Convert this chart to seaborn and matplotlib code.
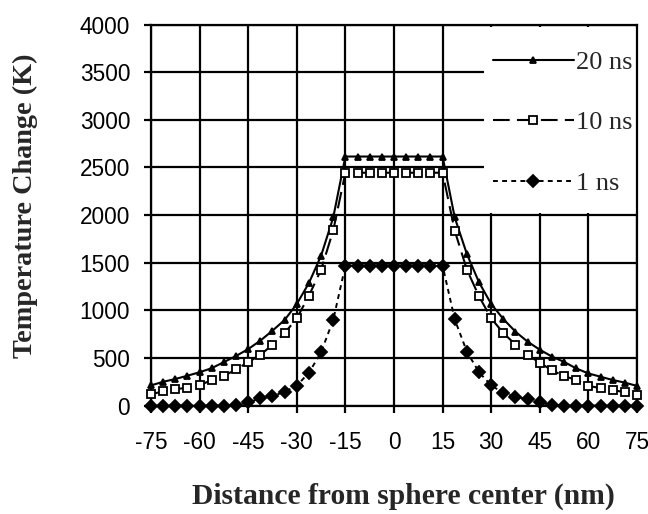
import matplotlib
matplotlib.use("Agg")
import matplotlib.pyplot as plt
from matplotlib.patches import Rectangle
import pandas as pd
import seaborn as sns

# Radial positions (nm) at which the temperature rise was evaluated
distance_nm = [-75, -71.25, -67.5, -63.75, -60, -56.25, -52.5, -48.75, -45,
               -41.25, -37.5, -33.75, -30, -26.25, -22.5, -18.75, -15,
               -11.25, -7.5, -3.75, 0, 3.75, 7.5, 11.25, 15,
               18.75, 22.5, 26.25, 30, 33.75, 37.5, 41.25, 45,
               48.75, 52.5, 56.25, 60, 63.75, 67.5, 71.25, 75]

# Temperature change (K) after each heating time
temp_20ns = [212, 250, 279, 314, 350, 393, 457, 521, 593,
             682, 787, 899, 1067, 1287, 1574, 1975, 2615,
             2615, 2615, 2615, 2615, 2615, 2615, 2615, 2615,
             1975, 1591, 1294, 1067, 909, 776, 671, 587,
             515, 459, 390, 338, 303, 269, 241, 207]
temp_10ns = [118, 150, 171, 189, 214, 268, 312, 379, 457,
             531, 640, 762, 916, 1154, 1427, 1839, 2445,
             2445, 2445, 2445, 2445, 2445, 2445, 2445, 2445,
             1836, 1427, 1147, 916, 762, 640, 531, 450,
             370, 310, 269, 207, 183, 166, 138, 114]
temp_1ns = [0, 0, 0, 0, 0, 0, 0, 5, 35,
            75, 100, 145, 210, 345, 560, 900, 1470,
            1470, 1470, 1470, 1470, 1470, 1470, 1470, 1470,
            905, 566, 350, 212, 133, 92, 70, 34,
            10, 0, 0, 0, 0, 0, 0, 0]

series_labels = ["20 ns", "10 ns", "1 ns"]
x_ticks = [-75, -60, -45, -30, -15, 0, 15, 30, 45, 60, 75]
y_ticks = [0, 500, 1000, 1500, 2000, 2500, 3000, 3500, 4000]

sns.set_style("white")
plt.rcParams["font.family"] = ["Liberation Sans", "DejaVu Sans"]
serif = ["Liberation Serif", "DejaVu Serif"]

fig = plt.figure(figsize=(6.48, 5.14), dpi=100)
ax = fig.add_axes([0.233, 0.2109, 0.75, 0.7412])

series = {
    "20 ns": dict(values=temp_20ns, marker="^", ms=5.0, mfc="black", ls="-", lw=1.5),
    "10 ns": dict(values=temp_10ns, marker="s", ms=6.0, mfc="white", ls=(0, (8, 3.5)), lw=1.5),
    "1 ns": dict(values=temp_1ns, marker="D", ms=6.0, mfc="black", ls=(0, (2.5, 2.2)), lw=1.4),
}

for label in series_labels:
    s = series[label]
    df = pd.DataFrame({"distance": distance_nm, "temp": s["values"]})
    sns.lineplot(data=df, x="distance", y="temp", ax=ax, sort=False, estimator=None,
                 color="black", marker=s["marker"], markersize=s["ms"],
                 markerfacecolor=s["mfc"], markeredgecolor="black",
                 markeredgewidth=1.3, linestyle=s["ls"], linewidth=s["lw"],
                 label=label, clip_on=False, zorder=3)

ax.set_xlim(-75, 75)
ax.set_ylim(0, 4000)
ax.set_xticks(x_ticks)
ax.set_yticks(y_ticks)
ax.set_xticklabels([str(t) for t in x_ticks])
ax.set_yticklabels([str(t) for t in y_ticks])

ax.set_axisbelow(True)
ax.grid(True, color="black", linewidth=1.6)
for sp in ax.spines.values():
    sp.set_visible(True)
    sp.set_color("black")
    sp.set_linewidth(1.6)
ax.tick_params(axis="both", which="major", direction="out", length=5, width=1.6,
               color="black", labelsize=16.3, labelcolor="black")
ax.tick_params(axis="x", pad=13, bottom=True)
ax.tick_params(axis="y", pad=10, left=True)

# White panel behind the legend hides the grid in the upper-right corner
ax.add_patch(Rectangle((0.6858, 0.5055), 0.3142, 0.4882, transform=ax.transAxes,
                       facecolor="white", edgecolor="none", zorder=1))

ax.set_xlabel("Distance from sphere center (nm)", fontsize=21.3, fontweight="bold",
              family=serif)
ax.set_ylabel("Temperature Change (K)", fontsize=20.3, fontweight="bold",
              family=serif)
ax.xaxis.set_label_coords(0.5185, -0.203)
ax.yaxis.set_label_coords(-0.232, 0.524)

handles, labels = ax.get_legend_handles_labels()
order = [labels.index(l) for l in series_labels]
leg = ax.legend([handles[i] for i in order], [labels[i] for i in order],
                loc="upper left", bbox_to_anchor=(0.654, 0.995), frameon=False,
                handlelength=3.1, handletextpad=0.08, labelspacing=1.41,
                prop={"family": serif, "size": 19})
leg.set_zorder(5)

fig.savefig("out.png", dpi=100, facecolor="white")
